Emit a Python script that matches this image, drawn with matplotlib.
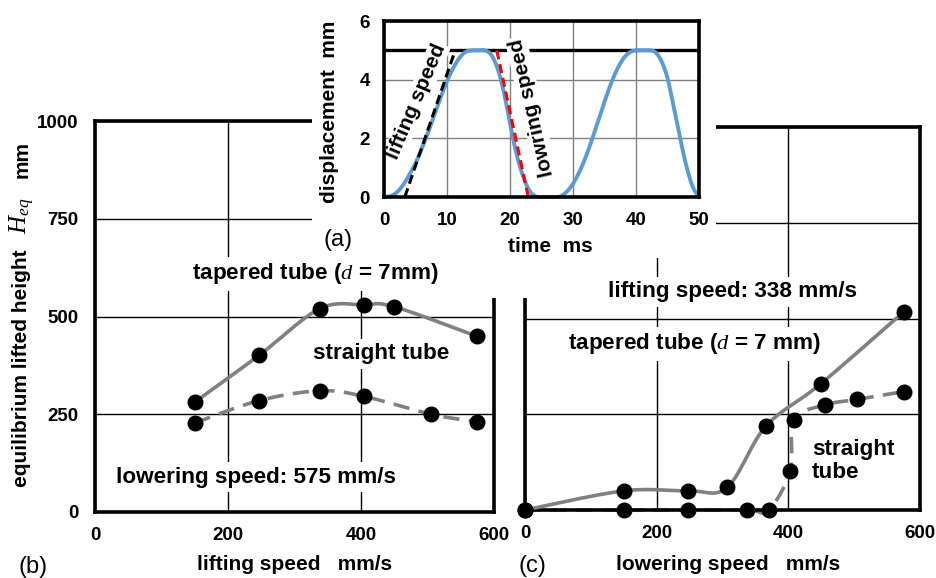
import numpy as np
import matplotlib
matplotlib.use("Agg")
import matplotlib.pyplot as plt
from matplotlib.patches import Rectangle

plt.rcParams['font.family'] = ['Liberation Sans', 'DejaVu Sans']
plt.rcParams['mathtext.fontset'] = 'custom'
plt.rcParams['mathtext.it'] = 'Liberation Serif:italic'
plt.rcParams['mathtext.rm'] = 'Liberation Sans'
plt.rcParams['mathtext.bf'] = 'Liberation Sans:bold'

# ---------------- data ----------------
# (a) displacement vs time
time_ms = [0, 1, 2, 3, 4, 5, 6, 7, 8, 9, 10, 11, 12, 13, 14, 15, 16, 17, 18, 19, 20,
           21, 22, 23, 24, 25, 26, 27, 28, 29, 30, 31, 32, 33, 34, 35, 36, 37, 38, 39, 40,
           41, 42, 43, 44, 45, 46, 47, 48, 49, 50]
disp_mm = [0, 0.03, 0.15, 0.4, 0.75, 1.15, 1.65, 2.2, 2.8, 3.4, 3.95, 4.4, 4.75, 4.95, 5.0, 5.0, 5.0,
           4.85, 4.4, 3.6, 2.5, 1.5, 0.75, 0.25, 0.03, 0, 0, 0, 0.02, 0.18, 0.45, 0.85, 1.35, 1.95,
           2.6, 3.25, 3.85, 4.35, 4.72, 4.93, 5.0, 5.0, 5.0, 4.95, 4.65, 4.05, 3.05, 2.0, 1.05, 0.35, 0.0]
lift_line_t = [3.3, 11.3]
lift_line_d = [0, 5]
lower_line_t = [17.9, 22.9]
lower_line_d = [5, 0]
stroke_mm = 5
a_xticks = [0, 10, 20, 30, 40, 50]
a_yticks = [0, 2, 4, 6]

# (b) equilibrium height vs lifting speed (lowering speed 575 mm/s)
b_tapered_x = [150, 247, 338, 404, 450, 575]
b_tapered_y = [281, 401, 520, 530, 525, 449]
b_straight_x = [150, 247, 338, 404, 505, 575]
b_straight_y = [228, 285, 310, 296, 250, 231]
b_xticks = [0, 200, 400, 600]
b_yticks = [0, 250, 500, 750, 1000]

# (c) equilibrium height vs lowering speed (lifting speed 338 mm/s)
c_tapered_x = [0, 150, 248, 307, 366, 449, 575]
c_tapered_y = [0, 50, 50, 59, 219, 329, 517]
c_straight_x = [0, 150, 248, 337, 370, 403, 408, 455, 505, 575]
c_straight_y = [0, 0, 0, 0, 0, 103, 235, 274, 289, 309]
c_xticks = [0, 200, 400, 600]
c_yticks = [0, 250, 500, 750, 1000]


def smooth(x, y, n=40):
    """Excel-like smoothed line (Catmull-Rom as cubic Bezier) through the points."""
    x = np.asarray(x, float)
    y = np.asarray(y, float)
    P = np.column_stack([x, y])
    Pext = np.vstack([P[0], P, P[-1]])
    out = []
    s = np.linspace(0, 1, n)[:, None]
    for i in range(len(P) - 1):
        p0, p1, p2, p3 = Pext[i], Pext[i + 1], Pext[i + 2], Pext[i + 3]
        c1 = p1 + (p2 - p0) / 6.0
        c2 = p2 - (p3 - p1) / 6.0
        seg = ((1 - s) ** 3) * p1 + 3 * ((1 - s) ** 2) * s * c1 + 3 * (1 - s) * s ** 2 * c2 + s ** 3 * p2
        out.append(seg if i == 0 else seg[1:])
    out = np.vstack(out)
    return out[:, 0], out[:, 1]


W, H = 937, 578
fig = plt.figure(figsize=(W / 100, H / 100), dpi=100)
fig.patch.set_facecolor('white')


def rect_px(l, t, r, b):
    return [l / W, 1 - b / H, (r - l) / W, (b - t) / H]


def ftext(x, y, s, **kw):
    kw.setdefault('ha', 'center')
    kw.setdefault('va', 'center')
    kw.setdefault('zorder', 10)
    return fig.text(x / W, 1 - y / H, s, **kw)


TICK = 13.5
LAB = 15
TXT = 16.2
PAN = 17
GRAY = '#808080'
BOX = dict(facecolor='white', edgecolor='none', pad=3)


def style_main(ax, xticks, yticks, show_y=True):
    ax.set_xlim(0, 600)
    ax.set_ylim(0, 1000)
    ax.set_xticks(xticks)
    ax.set_yticks(yticks)
    if not show_y:
        ax.set_yticklabels([])
    ax.tick_params(axis='x', length=0, labelsize=TICK, pad=11)
    ax.tick_params(axis='y', length=0, labelsize=TICK, pad=12)
    for lab in ax.get_xticklabels() + ax.get_yticklabels():
        lab.set_fontweight('bold')
    ax.grid(True, color='black', lw=1)
    ax.set_axisbelow(True)
    for sp in ax.spines.values():
        sp.set_linewidth(2.6)
        sp.set_color('black')


# ---------------- panel (b) ----------------
ax_b = fig.add_axes(rect_px(95, 121, 494, 512), zorder=0)
style_main(ax_b, b_xticks, b_yticks)
sx, sy = smooth(b_tapered_x, b_tapered_y)
ax_b.plot(sx, sy, color=GRAY, lw=2.6, solid_capstyle='round', zorder=3)
sx, sy = smooth(b_straight_x, b_straight_y)
ax_b.plot(sx, sy, color=GRAY, lw=2.6, dashes=(4.5, 2.6), zorder=3)
ax_b.plot(b_tapered_x, b_tapered_y, 'o', color='black', ms=10.5, zorder=4, clip_on=False)
ax_b.plot(b_straight_x, b_straight_y, 'o', color='black', ms=10.5, zorder=4, clip_on=False)

# ---------------- panel (c) ----------------
ax_c = fig.add_axes(rect_px(525, 127, 920, 510), zorder=0)
style_main(ax_c, c_xticks, c_yticks, show_y=False)
sx, sy = smooth(c_tapered_x, c_tapered_y)
ax_c.plot(sx, sy, color=GRAY, lw=2.6, zorder=3, clip_on=False)
sx, sy = smooth(c_straight_x, c_straight_y)
ax_c.plot(sx, sy, color=GRAY, lw=2.6, dashes=(4.5, 2.6), zorder=2, clip_on=False)
ax_c.plot(c_tapered_x, c_tapered_y, 'o', color='black', ms=10.5, zorder=4, clip_on=False)
ax_c.plot(c_straight_x, c_straight_y, 'o', color='black', ms=10.5, zorder=4, clip_on=False)

# white area behind the inset
fig.add_artist(Rectangle((312 / W, 1 - 258 / H), (716 - 312) / W, 258 / H,
                         transform=fig.transFigure, facecolor='white', edgecolor='none', zorder=1))
fig.add_artist(Rectangle((445 / W, 1 - 298 / H), (600 - 445) / W, 45 / H,
                         transform=fig.transFigure, facecolor='white', edgecolor='none', zorder=1))

# ---------------- panel (a) inset ----------------
ax_a = fig.add_axes(rect_px(384, 21, 699, 197), zorder=5)
ax_a.set_xlim(0, 50)
ax_a.set_ylim(0, 6)
ax_a.set_xticks(a_xticks)
ax_a.set_yticks(a_yticks)
ax_a.tick_params(axis='x', length=0, labelsize=TICK, pad=11)
ax_a.tick_params(axis='y', length=0, labelsize=TICK, pad=10)
for lab in ax_a.get_xticklabels() + ax_a.get_yticklabels():
    lab.set_fontweight('bold')
ax_a.grid(True, color=GRAY, lw=1)
ax_a.set_axisbelow(True)
for sp in ax_a.spines.values():
    sp.set_linewidth(2.6)
    sp.set_color('black')
    sp.set_zorder(6)
ax_a.axhline(stroke_mm, color='black', lw=2.4, zorder=2)
tx, ty = smooth(time_ms, disp_mm, n=12)
ax_a.plot(tx, ty, color='#5B9BD5', lw=2.8, zorder=4, clip_on=False)
ax_a.plot(lift_line_t, lift_line_d, color='black', lw=2.2, dashes=(3, 1.6), zorder=5)
ax_a.plot(lower_line_t, lower_line_d, color='red', lw=2.2, dashes=(3, 1.6), zorder=5)
ax_a.text(5.1, 3.25, 'lifting speed', rotation=67, ha='center', va='center', fontsize=15,
          fontweight='bold', bbox=dict(facecolor='white', edgecolor='none', pad=1), zorder=3)
ax_a.text(23.4, 3.05, 'lowring speed', rotation=103, ha='center', va='center', fontsize=15,
          fontweight='bold', bbox=dict(facecolor='white', edgecolor='none', pad=1), zorder=3)

# ---------------- texts ----------------
ftext(330, 112, 'displacement  mm', rotation=90, fontsize=LAB, fontweight='bold')
ftext(550, 247, 'time  ms', fontsize=LAB, fontweight='bold')
ftext(338, 240, '(a)', fontsize=PAN)

ftext(22, 368, 'equilibrium lifted height', rotation=90, fontsize=LAB, fontweight='bold')
ftext(22, 216, r'$H_{eq}$', rotation=90, fontsize=18)
ftext(22, 160, 'mm', rotation=90, fontsize=LAB, fontweight='bold')

ftext(315, 274, r'tapered tube ($d$ = 7mm)', fontsize=TXT, fontweight='bold', bbox=BOX)
ftext(381, 354, 'straight tube', fontsize=TXT, fontweight='bold', bbox=BOX)
ftext(256, 477, 'lowering speed: 575 mm/s', fontsize=TXT, fontweight='bold', bbox=BOX)
ftext(295, 565, 'lifting speed   mm/s', fontsize=LAB, fontweight='bold')
ftext(33, 567, '(b)', fontsize=PAN)

ftext(733, 292, 'lifting speed: 338 mm/s', fontsize=TXT, fontweight='bold', bbox=BOX)
ftext(694, 344, r'tapered tube ($d$ = 7 mm)', fontsize=TXT, fontweight='bold', bbox=BOX)
ftext(812, 461, 'straight\ntube', ha='left', fontsize=TXT, fontweight='bold', linespacing=1.15, bbox=BOX)
ftext(728, 565, 'lowering speed   mm/s', fontsize=LAB, fontweight='bold')
ftext(532, 566, '(c)', fontsize=PAN)

fig.savefig('out.png', dpi=100, facecolor='white')
